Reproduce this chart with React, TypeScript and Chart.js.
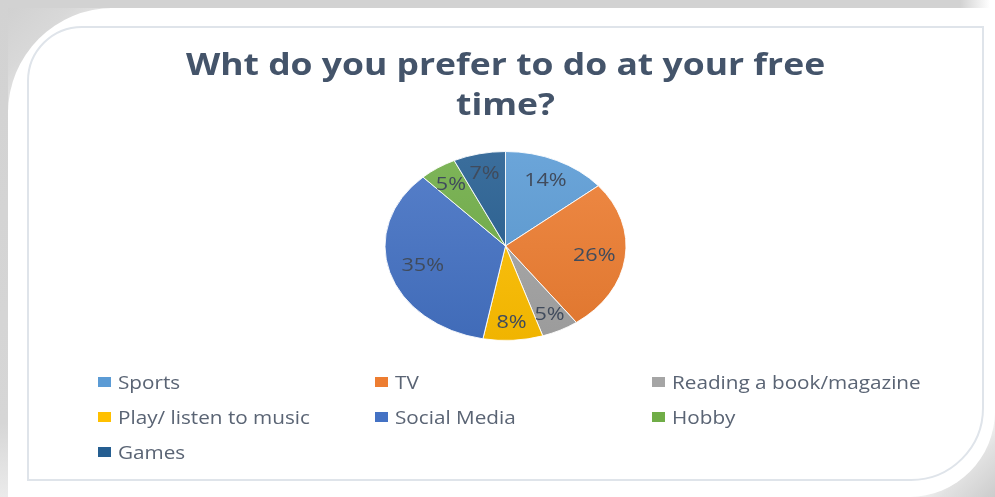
import React, { useEffect, useRef } from "react";
import { Chart, registerables } from "chart.js";

Chart.register(...registerables);

const TITLE_LINES = ["Wht do you prefer to do at your free", "time?"];
const CATEGORIES = [
  "Sports",
  "TV",
  "Reading a book/magazine",
  "Play/ listen to music",
  "Social Media",
  "Hobby",
  "Games",
];
const VALUES = [14, 26, 5, 8, 35, 5, 7];
const COLORS = ["#5b9bd5", "#ed7d31", "#a5a5a5", "#ffc000", "#4472c4", "#70ad47", "#255e91"];

const FONT = "'Open Sans', 'DejaVu Sans', sans-serif";
const Y_SQUASH = 0.784; // pie drawn as an ellipse like the reference
const TEXT_STRETCH = 1.15;

function shade(hex: string, amt: number): string {
  const n = parseInt(hex.slice(1), 16);
  let r = (n >> 16) & 255, g = (n >> 8) & 255, b = n & 255;
  const f = (c: number) =>
    Math.round(amt >= 0 ? c + (255 - c) * amt : c * (1 + amt));
  r = f(r); g = f(g); b = f(b);
  return `rgb(${r},${g},${b})`;
}

function stretchedText(
  ctx: CanvasRenderingContext2D,
  text: string,
  x: number,
  y: number,
  align: CanvasTextAlign,
  sx: number
) {
  ctx.save();
  ctx.translate(x, y);
  ctx.scale(sx, 1);
  ctx.textAlign = align;
  ctx.textBaseline = "alphabetic";
  ctx.fillText(text, 0, 0);
  ctx.restore();
}

const excelPiePlugin = {
  id: "excelPie",
  beforeDatasetsDraw(chart: any) {
    const ctx = chart.ctx;
    const a = chart.chartArea;
    const cx = (a.left + a.right) / 2;
    const cy = (a.top + a.bottom) / 2;
    ctx.save();
    ctx.translate(cx, cy);
    ctx.scale(1, Y_SQUASH);
    ctx.translate(-cx, -cy);
  },
  afterDatasetsDraw(chart: any) {
    const ctx = chart.ctx;
    ctx.restore();
    const meta = chart.getDatasetMeta(0);
    const data = chart.data.datasets[0].data as number[];
    ctx.save();
    ctx.fillStyle = "#404b5c";
    ctx.font = `18px ${FONT}`;
    meta.data.forEach((arc: any, i: number) => {
      const p = arc.getProps(["x", "y", "startAngle", "endAngle", "outerRadius"], true);
      const mid = (p.startAngle + p.endAngle) / 2;
      // best-fit style: bigger slices get their label nearer the centre
      const frac = 0.82 - 0.003 * data[i];
      const r = p.outerRadius * frac;
      const px = p.x + Math.cos(mid) * r;
      const py = p.y + Math.sin(mid) * r * Y_SQUASH;
      stretchedText(ctx, `${data[i]}%`, px, py + 6.5, "center", 1.2);
    });
    ctx.restore();
  },
  afterDraw(chart: any) {
    const ctx = chart.ctx;
    // title
    ctx.save();
    ctx.fillStyle = "#44546a";
    ctx.font = `bold 31px ${FONT}`;
    const tx = 505.5;
    TITLE_LINES.forEach((line, i) => {
      stretchedText(ctx, line, tx, 75 + i * 40, "center", 1.145);
    });
    ctx.restore();
    // legend in three columns
    ctx.save();
    ctx.font = `18px ${FONT}`;
    const labels = chart.data.labels as string[];
    labels.forEach((lab, i) => {
      const col = i % 3;
      const row = Math.floor(i / 3);
      const x = 98 + col * 277;
      const yc = 382 + row * 35;
      ctx.fillStyle = COLORS[i];
      ctx.fillRect(x, yc - 5, 13, 10);
      ctx.fillStyle = "#5a6474";
      stretchedText(ctx, lab, x + 20, yc + 6.5, "left", TEXT_STRETCH);
    });
    ctx.restore();
  },
};

export default function App() {
  const ref = useRef<HTMLCanvasElement>(null);

  useEffect(() => {
    if (!ref.current) return;
    const chart = new Chart(ref.current, {
      type: "pie",
      data: {
        labels: CATEGORIES,
        datasets: [
          {
            data: VALUES,
            backgroundColor: (c: any) => {
              const area = c.chart.chartArea;
              const base = COLORS[c.dataIndex % COLORS.length];
              if (!area) return base;
              const g = c.chart.ctx.createLinearGradient(0, area.top, 0, area.bottom);
              g.addColorStop(0, shade(base, 0.1));
              g.addColorStop(1, shade(base, -0.06));
              return g;
            },
            borderColor: "#ffffff",
            borderWidth: 1,
          },
        ],
      },
      options: {
        responsive: false,
        animation: false,
        events: [],
        layout: { padding: { left: 16, right: 0, top: 125, bottom: 130 } },
        plugins: {
          legend: { display: false },
          title: { display: false },
          tooltip: { enabled: false },
        },
      },
      plugins: [excelPiePlugin],
    });
    return () => chart.destroy();
  }, []);

  return (
    <div
      style={{
        position: "fixed",
        left: 0,
        top: 0,
        width: 995,
        height: 497,
        background: "#ffffff",
        overflow: "hidden",
      }}
    >
      {/* corner shadows */}
      <div
        style={{
          position: "absolute",
          left: 0,
          top: 0,
          width: 110,
          height: 110,
          background: "linear-gradient(135deg, #cfcfcf 0%, #d8d8d8 35%, #eeeeee 70%)",
        }}
      />
      <div
        style={{
          position: "absolute",
          right: 0,
          bottom: 0,
          width: 90,
          height: 90,
          background: "linear-gradient(135deg, #ffffff 45%, #e2e2e2 70%, #cccccc 100%)",
        }}
      />
      {/* outer shadow bands */}
      <div
        style={{
          position: "absolute",
          left: 0,
          top: 0,
          width: 990,
          height: 8,
          background: "linear-gradient(to right, #d2d2d2 0%, #d2d2d2 97%, #ffffff 100%)",
        }}
      />
      <div
        style={{
          position: "absolute",
          left: 0,
          top: 0,
          width: 8,
          height: 497,
          background: "linear-gradient(to bottom, #d2d2d2 0%, #d6d6d6 85%, #ebebeb 100%)",
        }}
      />
      {/* white card */}
      <div
        style={{
          position: "absolute",
          left: 8,
          top: 8,
          right: 0,
          bottom: 0,
          background: "#ffffff",
          borderTopLeftRadius: 105,
          borderBottomRightRadius: 86,
        }}
      />
      {/* inner border */}
      <div
        style={{
          position: "absolute",
          left: 27,
          top: 26,
          width: 957,
          height: 455,
          boxSizing: "border-box",
          border: "2px solid #dfe4ea",
          borderTopLeftRadius: 55,
          borderBottomRightRadius: 73,
        }}
      />
      <canvas
        ref={ref}
        width={995}
        height={497}
        style={{ position: "absolute", left: 0, top: 0 }}
      />
    </div>
  );
}
